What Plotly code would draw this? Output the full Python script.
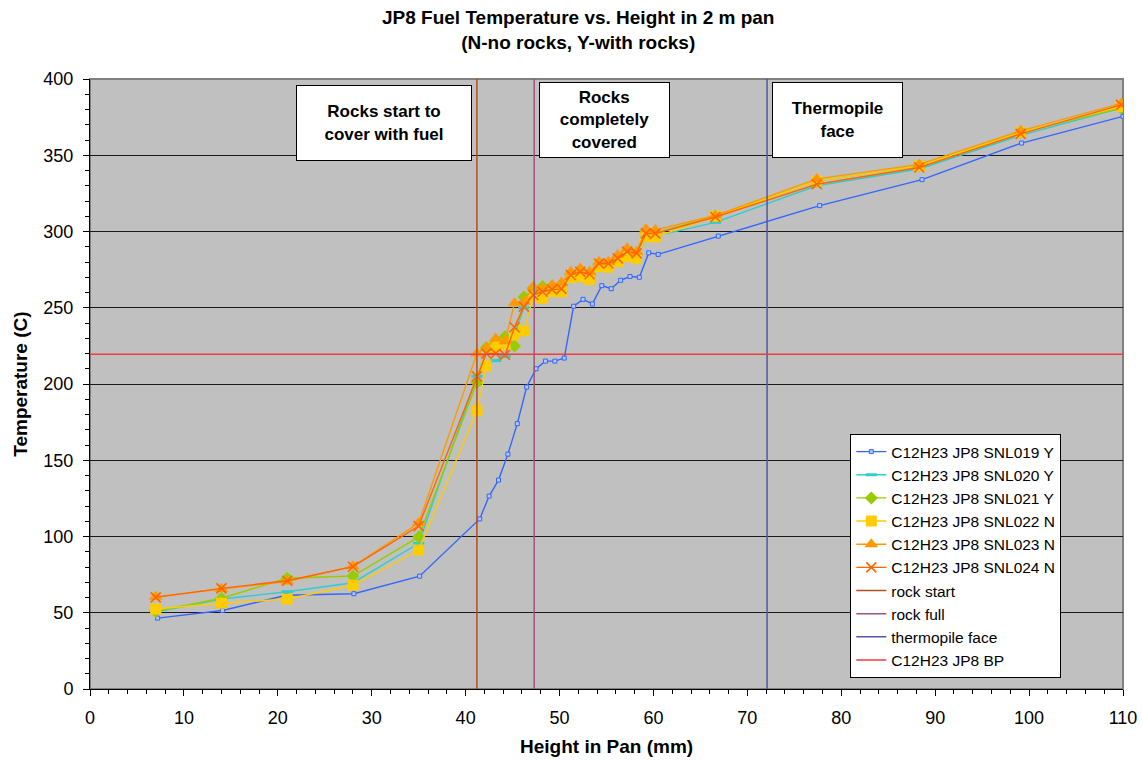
import plotly.graph_objects as go

# Heights (mm) at which each run was sampled
x_snl019 = [7.2, 14.1, 20.9, 28.1, 35.1,
            41.5, 42.5, 43.5, 44.5, 45.5, 46.5, 47.5, 48.5, 49.5, 50.5,
            51.5, 52.5, 53.5, 54.5, 55.5, 56.5, 57.5, 58.5, 59.5, 60.5,
            66.9, 77.7, 88.6, 99.2, 110.0]
x_runs = [7.0, 14.0, 21.0, 28.0, 35.0,
          41.2, 42.2, 43.2, 44.2, 45.2, 46.2, 47.2, 48.2, 49.2, 50.2,
          51.2, 52.2, 53.2, 54.2, 55.2, 56.2, 57.2, 58.2, 59.2, 60.2,
          66.6, 77.4, 88.3, 99.1, 109.8]

# Fuel temperatures (C)
t_snl019 = [46.5, 51.5, 61.5, 62.5, 74.0,
            111.5, 126.5, 137.0, 154.0, 174.0, 198.0, 210.0, 215.0, 215.0, 217.0,
            251.0, 255.5, 252.5, 264.5, 262.5, 268.0, 270.5, 270.0, 286.0, 285.0,
            297.0, 317.0, 334.0, 358.0, 375.5]
t_snl020 = [50.5, 59.0, 63.8, 69.7, 95.5,
            205.0, 213.0, 215.3, 218.0, 232.0, 250.0, 257.0, 258.0, 260.0, 261.0,
            270.0, 272.0, 271.0, 277.0, 278.0, 281.0, 283.0, 282.0, 297.0, 297.0,
            306.0, 330.0, 341.0, 363.0, 381.0]
t_snl021 = [51.0, 59.5, 72.6, 74.1, 99.7,
            201.0, 224.0, 227.0, 231.0, 225.0, 257.0, 263.0, 264.0, 264.0, 265.0,
            272.0, 274.0, 272.0, 279.0, 279.0, 283.0, 287.0, 285.0, 299.0, 299.0,
            310.0, 333.0, 343.0, 365.0, 381.0]
t_snl022 = [52.5, 56.2, 59.0, 68.0, 91.1,
            182.5, 211.8, 224.5, 226.0, 232.0, 234.8, 257.0, 256.2, 260.5, 260.5,
            270.0, 270.4, 268.6, 277.0, 276.6, 280.2, 283.5, 282.4, 296.6, 296.4,
            310.0, 333.0, 343.0, 365.0, 382.0]
t_snl023 = [60.5, 65.5, 70.5, 80.5, 108.8,
            220.0, 223.8, 229.9, 228.0, 252.9, 254.0, 263.8, 262.7, 264.9, 266.4,
            273.6, 275.8, 273.6, 280.2, 280.2, 284.6, 289.0, 286.8, 301.4, 301.0,
            310.5, 334.5, 344.0, 366.0, 384.0]
t_snl024 = [60.1, 66.0, 71.0, 80.2, 106.8,
            205.0, 220.0, 220.0, 219.0, 237.2, 250.7, 258.4, 260.5, 262.0, 262.4,
            271.5, 273.6, 272.0, 279.0, 279.0, 282.4, 286.8, 285.7, 298.8, 298.6,
            309.5, 331.0, 342.0, 364.0, 383.0]

# Reference markers
rock_start_mm = 41.2
rock_full_mm = 47.3
thermopile_face_mm = 72.1
jp8_boiling_point_c = 219.5

x_limits = [0, 110]
y_limits = [0, 400]

FONT = "Liberation Sans, Arial, sans-serif"

run_styles = [
    ("C12H23 JP8 SNL019 Y", x_snl019, t_snl019, "#3366FF",
     dict(symbol="square", size=4, color="#B4C6F8", line=dict(color="#3366FF", width=1))),
    ("C12H23 JP8 SNL020 Y", x_runs, t_snl020, "#33CCCC",
     dict(symbol="line-ew", size=8, line=dict(color="#33CCCC", width=3))),
    ("C12H23 JP8 SNL021 Y", x_runs, t_snl021, "#99CC00",
     dict(symbol="diamond", size=10, color="#99CC00", line=dict(width=0))),
    ("C12H23 JP8 SNL022 N", x_runs, t_snl022, "#FFCC00",
     dict(symbol="square", size=11, color="#FFCC00", line=dict(width=0))),
    ("C12H23 JP8 SNL023 N", x_runs, t_snl023, "#FF9900",
     dict(symbol="triangle-up", size=12, color="#FF9900", line=dict(width=0))),
    ("C12H23 JP8 SNL024 N", x_runs, t_snl024, "#FF6600",
     dict(symbol="x-thin-open", size=10, line=dict(color="#FF6600", width=1.6))),
]

fig = go.Figure()

for name, xs, ts, color, marker in run_styles:
    fig.add_trace(go.Scatter(
        x=xs, y=ts, name=name, mode="lines+markers",
        line=dict(color=color, width=1.4), marker=marker,
    ))

ref_lines = [
    ("rock start", [rock_start_mm, rock_start_mm], y_limits, "#B0501E"),
    ("rock full", [rock_full_mm, rock_full_mm], y_limits, "#9E5478"),
    ("thermopile face", [thermopile_face_mm, thermopile_face_mm], y_limits, "#5555AA"),
    ("C12H23 JP8 BP", x_limits, [jp8_boiling_point_c, jp8_boiling_point_c], "#F03C3C"),
]
for name, xs, ys, color in ref_lines:
    fig.add_trace(go.Scatter(
        x=xs, y=ys, name=name, mode="lines",
        line=dict(color=color, width=1.5),
    ))

box_notes = [
    ("Rocks start to<br>cover with fuel", 31.3, 371.2, 174),
    ("Rocks<br>completely<br>covered", 54.8, 373.1, 129),
    ("Thermopile<br>face", 79.6, 373.1, 129),
]
annotations = []
for text, ax_x, ax_y, w in box_notes:
    annotations.append(dict(
        x=ax_x, y=ax_y, xref="x", yref="y", text="<b>" + text + "</b>",
        showarrow=False, xanchor="center", yanchor="middle",
        width=w, height=74, bgcolor="white", bordercolor="black",
        borderwidth=1, borderpad=0,
        font=dict(family=FONT, size=17, color="black"),
    ))

# Chart title (two lines) above the plot area
annotations.append(dict(
    x=0.4724, y=1.0803, xref="paper", yref="paper",
    text="<b>JP8 Fuel Temperature vs. Height in 2 m pan<br>(N-no rocks, Y-with rocks)</b>",
    showarrow=False, xanchor="center", yanchor="middle",
    font=dict(family=FONT, size=19, color="black"),
))

annotations.append(dict(
    x=0.5, y=-0.094, xref="paper", yref="paper", text="<b>Height in Pan (mm)</b>",
    showarrow=False, xanchor="center", yanchor="middle",
    font=dict(family=FONT, size=19, color="black"),
))
annotations.append(dict(
    x=-0.068, y=0.5, xref="paper", yref="paper", text="<b>Temperature (C)</b>",
    showarrow=False, xanchor="center", yanchor="middle", textangle=-90,
    font=dict(family=FONT, size=19, color="black"),
))

fig.update_layout(
    width=1142, height=761,
    margin=dict(l=90, r=19, t=79, b=72, autoexpand=False),
    paper_bgcolor="white",
    plot_bgcolor="#C0C0C0",
    font=dict(family=FONT, color="black"),
    legend=dict(
        x=0.736, y=0.418, xanchor="left", yanchor="top",
        bgcolor="white", bordercolor="black", borderwidth=1,
        font=dict(family=FONT, size=15.5, color="black"),
        itemwidth=30, tracegroupgap=0,
    ),
    annotations=annotations,
    shapes=[dict(type="rect", xref="paper", yref="paper", x0=0, y0=0, x1=1, y1=1,
                 line=dict(color="#808080", width=2), layer="below")],
    showlegend=True,
)

fig.update_xaxes(
    range=x_limits, dtick=10, tick0=0, automargin=False,
    showgrid=False, zeroline=False,
    showline=True, linecolor="black", linewidth=1,
    ticks="outside", ticklen=6, tickcolor="black", tickwidth=1,
    ticklabelstandoff=6,
    tickfont=dict(family=FONT, size=18, color="black"),
    minor=dict(dtick=2, ticks="outside", ticklen=4, tickcolor="black", showgrid=False),
)
fig.update_yaxes(
    range=y_limits, dtick=50, tick0=0, automargin=False,
    showgrid=True, gridcolor="#1A1A1A", gridwidth=1,
    zeroline=False,
    showline=True, linecolor="black", linewidth=1,
    ticks="outside", ticklen=6, tickcolor="black", tickwidth=1,
    ticklabelstandoff=6,
    tickfont=dict(family=FONT, size=18, color="black"),
    minor=dict(dtick=10, ticks="outside", ticklen=4, tickcolor="black", showgrid=False),
)

fig.write_html("out.html")
